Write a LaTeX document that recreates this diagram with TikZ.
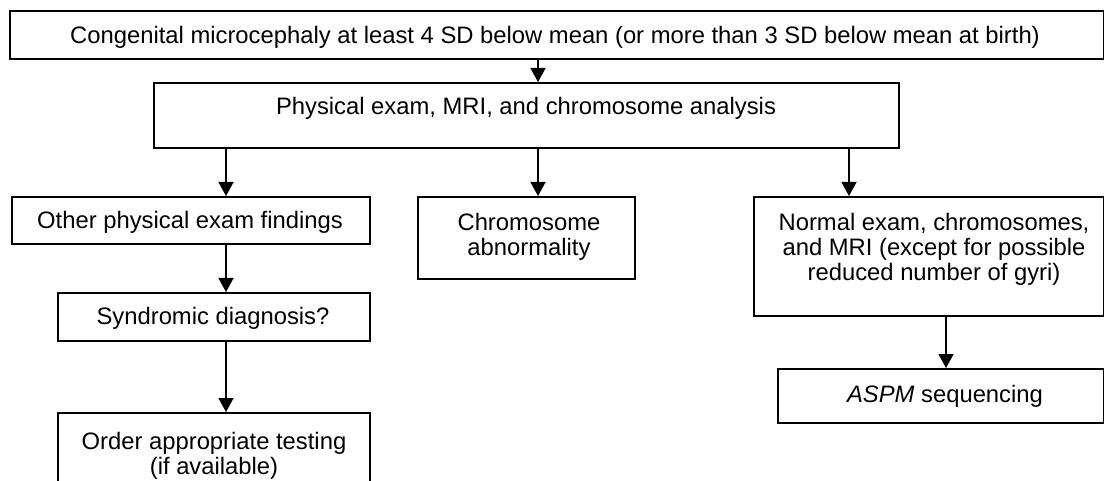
\documentclass[tikz,border=0pt]{standalone}
\usepackage{fontspec}
\setmainfont{Liberation Sans}
\usetikzlibrary{arrows.meta}
\begin{document}
\begin{tikzpicture}[x=1pt,y=-1pt,
  box/.style={draw, line width=1.6pt, inner sep=0pt, anchor=north west},
  txt/.style={inner sep=0pt, font=\fontsize{23.8}{25}\selectfont, align=center},
  arr/.style={line width=1.6pt, -{Triangle[length=14pt,width=15pt]}}]
\useasboundingbox (0,0) rectangle (1104,481);
% boxes
\node[box, minimum width=1094pt, minimum height=48pt] (top) at (9,10) {};
\node[box, minimum width=745pt, minimum height=65pt] (second) at (153,82) {};
\node[box, minimum width=358pt, minimum height=47pt] (box1) at (11,196) {};
\node[box, minimum width=217pt, minimum height=82pt] (chrom) at (417,196) {};
\node[box, minimum width=350pt, minimum height=119pt] (normal) at (753,196) {};
\node[box, minimum width=312pt, minimum height=48pt] (synd) at (57,292) {};
\node[box, minimum width=312pt, minimum height=90pt] (order) at (57,412) {};
\node[box, minimum width=326pt, minimum height=54pt] (aspm) at (777,368) {};
% texts
\node[txt, anchor=base] (t0) at (555,43.5) {Congenital microcephaly at least 4 SD below mean (or more than 3 SD below mean at birth)};
\node[txt, anchor=base] (t1) at (526,115) {Physical exam, MRI, and chromosome analysis};
\node[txt, anchor=base] (t2) at (190,229) {Other physical exam findings};
\node[txt, anchor=north] (t3) at (529,213) {Chromosome\\abnormality};
\node[txt, anchor=north] (t4) at (934,213) {Normal exam, chromosomes,\\and MRI (except for possible\\reduced number of gyri)};
\node[txt, anchor=base] (t5) at (213,324) {Syndromic diagnosis?};
\node[txt, anchor=north] (t6) at (214,432) {Order appropriate testing\\(if available)};
\node[txt, anchor=base] (t7) at (945,402) {\textit{ASPM} sequencing};
% arrow columns
\coordinate (xA) at (538,0);
\coordinate (xL) at (226,0);
\coordinate (xR) at (849,0);
\coordinate (xS) at (946,0);
\draw[arr] (top.south -| xA) -- (second.north -| xA);
\draw[arr] (second.south -| xL) -- (box1.north -| xL);
\draw[arr] (second.south -| xA) -- (chrom.north -| xA);
\draw[arr] (second.south -| xR) -- (normal.north -| xR);
\draw[arr] (box1.south -| xL) -- (synd.north -| xL);
\draw[arr] (synd.south -| xL) -- (order.north -| xL);
\draw[arr] (normal.south -| xS) -- (aspm.north -| xS);
\end{tikzpicture}
\end{document}
